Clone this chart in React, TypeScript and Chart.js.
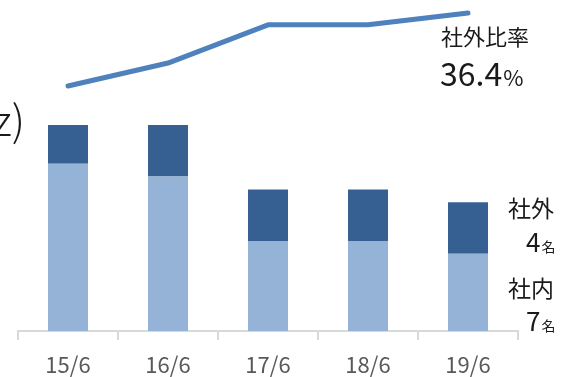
import React, { useEffect, useRef } from "react";
import { Chart, registerables } from "chart.js";

Chart.register(...registerables);

const categories = ["15/6", "16/6", "17/6", "18/6", "19/6"];
const insideCounts = [14, 13, 8, 8, 7];
const outsideCounts = [3, 4, 4, 4, 4];
const outsideRatio = [17.65, 23.53, 33.33, 33.33, 36.36];

const FONT = "'Noto Sans CJK JP', 'Noto Sans', sans-serif";

const labelsPlugin = {
  id: "labelsPlugin",
  afterDraw(chart: any) {
    const ctx = chart.ctx as CanvasRenderingContext2D;
    ctx.save();
    ctx.fillStyle = "#1a1a1a";
    ctx.textBaseline = "alphabetic";

    // partially cut title at left
    ctx.textAlign = "right";
    ctx.font = `300 42px ${FONT}`;
    ctx.fillText("z)", 25, 136);

    ctx.textAlign = "left";
    ctx.font = `22px ${FONT}`;
    ctx.fillText("社外比率", 441, 45);

    ctx.font = `32px ${FONT}`;
    const big = "36.4";
    ctx.fillText(big, 440, 86);
    const bw = ctx.measureText(big).width;
    ctx.font = `22px ${FONT}`;
    ctx.fillText("%", 440 + bw + 1, 86);

    ctx.textAlign = "center";
    ctx.font = `23px ${FONT}`;
    ctx.fillText("社外", 531, 217);
    ctx.fillText("社内", 531, 297);

    const numName = (n: string, x: number, y: number) => {
      ctx.textAlign = "left";
      ctx.font = `26px ${FONT}`;
      ctx.fillText(n, x, y);
      const w = ctx.measureText(n).width;
      ctx.font = `14px ${FONT}`;
      ctx.fillText("名", x + w + 1, y);
    };
    numName("4", 526, 252);
    numName("7", 526, 331);
    ctx.restore();
  },
};

export default function App() {
  const ref = useRef<HTMLCanvasElement | null>(null);
  useEffect(() => {
    if (!ref.current) return;
    const chart = new Chart(ref.current, {
      type: "bar",
      data: {
        labels: categories,
        datasets: [
          {
            type: "line",
            label: "社外比率",
            data: outsideRatio,
            yAxisID: "y2",
            borderColor: "#4F81BD",
            borderWidth: 5,
            borderCapStyle: "round",
            borderJoinStyle: "round",
            pointRadius: 0,
            tension: 0,
            fill: false,
            clip: false as any,
            order: 0,
          } as any,
          {
            label: "社内",
            data: insideCounts,
            backgroundColor: "#95B3D7",
            yAxisID: "y",
            stack: "s",
            barPercentage: 0.4,
            categoryPercentage: 1,
            order: 1,
          },
          {
            label: "社外",
            data: outsideCounts,
            backgroundColor: "#366092",
            yAxisID: "y",
            stack: "s",
            barPercentage: 0.4,
            categoryPercentage: 1,
            order: 1,
          },
        ],
      },
      options: {
        responsive: false,
        animation: false,
        layout: { padding: { left: 18, right: 44, top: 5, bottom: 0 } },
        plugins: {
          legend: { display: false },
          tooltip: { enabled: false },
          title: { display: false },
        },
        scales: {
          x: {
            stacked: true,
            offset: true,
            grid: {
              offset: true,
              drawOnChartArea: false,
              drawTicks: true,
              tickLength: 9,
              color: "#D9D9D9",
              lineWidth: 2,
            },
            border: { display: true, color: "#D9D9D9", width: 2 },
            ticks: {
              color: "#595959",
              font: { family: FONT, size: 22 },
              padding: 11,
              maxRotation: 0,
            },
            afterFit: (scale: any) => {
              scale.height = 46;
            },
          },
          y: {
            stacked: true,
            display: false,
            min: 1,
            max: 1 + 326 / 12.875,
          },
          y2: {
            display: false,
            min: -45.14,
            max: 38.41,
          },
        },
      },
      plugins: [labelsPlugin],
    });
    return () => chart.destroy();
  }, []);
  return (
    <div style={{ position: "fixed", left: 0, top: 0, width: 562, height: 377, background: "#fff" }}>
      <canvas ref={ref} width={562} height={377} />
    </div>
  );
}
